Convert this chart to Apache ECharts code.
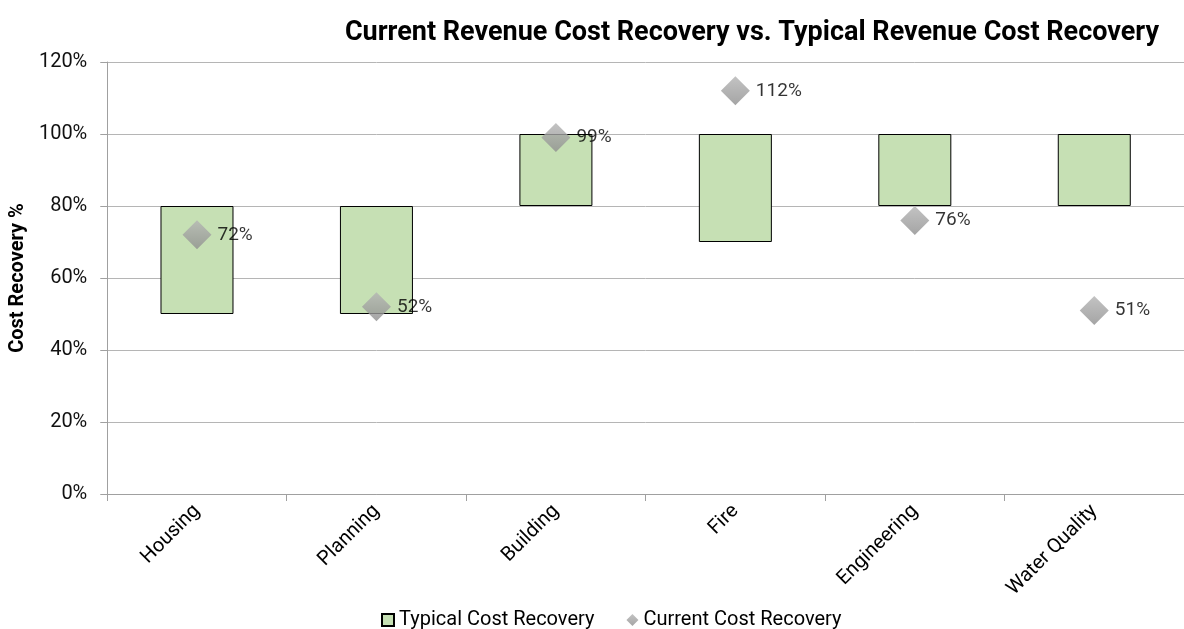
<!doctype html>
<html>
<head>
<meta charset="utf-8">
<title>Cost Recovery</title>
<script src="https://cdn.jsdelivr.net/npm/echarts@6/dist/echarts.min.js"></script>
<style>
  html, body { margin: 0; padding: 0; background: #fff; }
  #main { width: 1184px; height: 629px; }
</style>
</head>
<body>
<div id="main"></div>
<script>
var categories = ['Housing', 'Planning', 'Building', 'Fire', 'Engineering', 'Water Quality'];
var typicalLow = [50, 50, 80, 70, 80, 80];
var typicalHigh = [80, 80, 100, 100, 100, 100];
var current = [72, 52, 99, 112, 76, 51];
var yTicks = [0, 20, 40, 60, 80, 100, 120];

// bar height = high - low, stacked on an invisible base
var typicalSpan = [];
for (var i = 0; i < categories.length; i++) {
  typicalSpan.push(typicalHigh[i] - typicalLow[i]);
}

var chart = echarts.init(document.getElementById('main'));
var font = 'Roboto, "Noto Sans", sans-serif';

var option = {
  animation: false,
  textStyle: { fontFamily: font },
  title: {
    text: 'Current Revenue Cost Recovery vs. Typical Revenue Cost Recovery',
    left: 747,
    top: 15,
    textAlign: 'center',
    textStyle: { fontFamily: font, fontSize: 27, fontWeight: 'bold', color: '#000' }
  },
  legend: {
    data: [
      { name: 'Typical Cost Recovery', icon: 'rect' },
      { name: 'Current Cost Recovery', icon: 'diamond' }
    ],
    top: 605,
    left: 376,
    itemGap: 32,
    itemWidth: 12,
    itemHeight: 12,
    textStyle: { fontFamily: font, fontSize: 20, color: '#000' }
  },
  grid: { left: 107, top: 62, width: 1079, height: 432, containLabel: false },
  xAxis: {
    type: 'category',
    data: categories,
    axisLine: { lineStyle: { color: '#a0a0a0' } },
    axisTick: { show: true, length: 7, lineStyle: { color: '#a0a0a0' } },
    axisLabel: { rotate: 45, fontSize: 20, color: '#000', margin: 14, fontFamily: font }
  },
  yAxis: {
    type: 'value',
    min: yTicks[0],
    max: yTicks[yTicks.length - 1],
    interval: 20,
    name: 'Cost Recovery %',
    nameLocation: 'middle',
    nameGap: 66,
    nameTextStyle: { fontFamily: font, fontSize: 20, fontWeight: 'bold', color: '#000' },
    axisLine: { show: true, lineStyle: { color: '#a0a0a0' } },
    axisTick: { show: true, length: 7, lineStyle: { color: '#a0a0a0' } },
    splitLine: { lineStyle: { color: '#b5b5b5' } },
    axisLabel: { formatter: '{value}%', fontSize: 20, color: '#111', margin: 20, fontFamily: font }
  },
  series: [
    {
      name: 'base',
      type: 'bar',
      stack: 'typ',
      data: typicalLow,
      barWidth: 73,
      itemStyle: { color: 'transparent' },
      emphasis: { disabled: true },
      silent: true
    },
    {
      name: 'Typical Cost Recovery',
      type: 'bar',
      stack: 'typ',
      data: typicalSpan,
      barWidth: 73,
      itemStyle: { color: '#c6e0b4', borderColor: '#000', borderWidth: 1 }
    },
    {
      name: 'Current Cost Recovery',
      type: 'scatter',
      data: current,
      symbol: 'diamond',
      symbolSize: 29,
      itemStyle: {
        color: new echarts.graphic.LinearGradient(0, 0, 0, 1, [
          { offset: 0, color: '#b4b4b4' },
          { offset: 1, color: '#8e8e8e' }
        ])
      },
      label: {
        show: true,
        position: 'right',
        distance: 6,
        formatter: '{c}%',
        fontSize: 19,
        color: '#000',
        fontFamily: font
      },
      z: 5
    }
  ]
};

chart.setOption(option);
</script>
</body>
</html>
